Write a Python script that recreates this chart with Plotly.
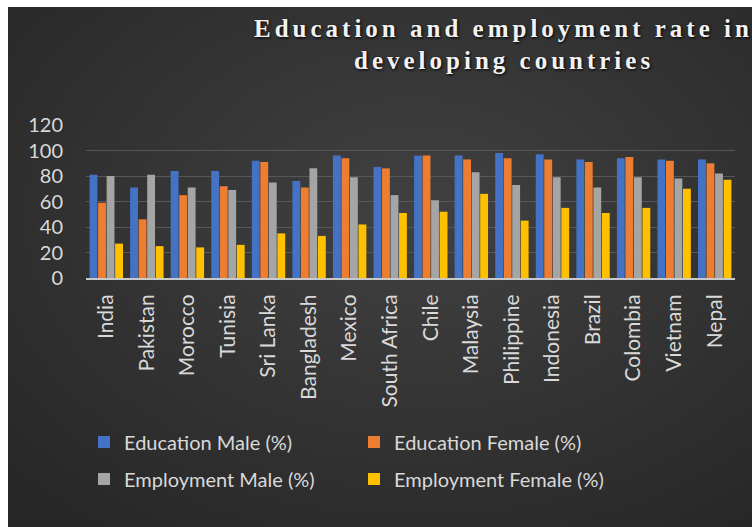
import base64
import plotly.graph_objects as go

countries = ["India", "Pakistan", "Morocco", "Tunisia", "Sri Lanka", "Bangladesh", "Mexico",
             "South Africa", "Chile", "Malaysia", "Philippine", "Indonesia", "Brazil",
             "Colombia", "Vietnam", "Nepal"]
edu_male = [81, 71, 84, 84, 92, 76, 96, 87, 96, 96, 98, 97, 93, 94, 93, 93]
edu_female = [59, 46, 65, 72, 91, 71, 94, 86, 96, 93, 94, 93, 91, 95, 92, 90]
emp_male = [80, 81, 71, 69, 75, 86, 79, 65, 61, 83, 73, 79, 71, 79, 78, 82]
emp_female = [27, 25, 24, 26, 35, 33, 42, 51, 52, 66, 45, 55, 51, 55, 70, 77]
series_names = ["Education Male (%)", "Education Female (%)",
                "Employment Male (%)", "Employment Female (%)"]
y_ticks = [0, 20, 40, 60, 80, 100, 120]

colors = ["#4472C4", "#ED7D31", "#A5A5A5", "#FFC000"]

W, H = 752, 527
L, R, T, B = 86, 17, 125, 249
PW, PH = W - L - R, H - T - B


def px_x(x):
    return (x - L) / PW


def px_y(y):
    return (H - B - y) / PH


fig = go.Figure()
for i, (name, vals) in enumerate(zip(series_names, [edu_male, edu_female, emp_male, emp_female])):
    fig.add_trace(go.Bar(
        x=countries, y=vals, name=name,
        marker=dict(color=colors[i], line=dict(width=0)),
        legend="legend" if i < 2 else "legend2",
    ))

svg = f'''<svg xmlns="http://www.w3.org/2000/svg" width="{W}" height="{H}">
<defs><radialGradient id="g" cx="0.55" cy="0.4" r="0.75">
<stop offset="0" stop-color="#414141"/><stop offset="1" stop-color="#272727"/>
</radialGradient></defs><rect width="100%" height="100%" fill="url(#g)"/></svg>'''
src = "data:image/svg+xml;base64," + base64.b64encode(svg.encode()).decode()

fig.add_layout_image(dict(
    source=src, xref="paper", yref="paper",
    x=px_x(8), y=px_y(7), sizex=(W - 8) / PW, sizey=(H - 7) / PH,
    xanchor="left", yanchor="top", sizing="stretch", layer="below",
))

title_font = dict(family="Liberation Serif", size=25, color="#f2f2f2",
                  weight="bold", shadow="1px 1px 3px #000000")
fig.add_annotation(text="Education and employment rate in", xref="paper", yref="paper",
                   x=px_x(503), y=px_y(28), showarrow=False, font=title_font,
                   xanchor="center", yanchor="middle")
fig.add_annotation(text="developing countries", xref="paper", yref="paper",
                   x=px_x(504), y=px_y(60), showarrow=False, font=title_font,
                   xanchor="center", yanchor="middle")

legend_common = dict(orientation="h", font=dict(family="Lato", size=20, color="#d9d9d9"),
                     bgcolor="rgba(0,0,0,0)", entrywidth=225, entrywidthmode="pixels",
                     itemwidth=30, xanchor="left", yanchor="middle")

fig.update_layout(
    width=W, height=H,
    margin=dict(l=L, r=R, t=T, b=B, autoexpand=False),
    paper_bgcolor="#ffffff",
    plot_bgcolor="rgba(0,0,0,0)",
    barmode="group", bargap=0.16, bargroupgap=0.08,
    showlegend=True,
    legend=dict(**legend_common, x=px_x(84), y=px_y(442)),
    legend2=dict(**legend_common, x=px_x(84), y=px_y(479)),
    xaxis=dict(tickangle=-90, tickfont=dict(family="Lato", size=21, color="#d9d9d9"),
               showline=True, linecolor="#c9c9c9", linewidth=2, showgrid=False,
               ticks="", ticklabelstandoff=6),
    yaxis=dict(range=[0, 120], tickvals=y_ticks, ticktext=[str(v) for v in y_ticks],
               tickfont=dict(family="Lato", size=20, color="#d9d9d9"),
               showgrid=True, gridcolor="#575757", gridwidth=1, zeroline=False,
               showline=False, ticks="", ticklabelstandoff=22),
)

post = """
function ls(){document.querySelectorAll('.annotation-text').forEach(function(e){e.style.letterSpacing='4px';});}
ls(); var gd=document.getElementById('{plot_id}'); if(gd&&gd.on){gd.on('plotly_afterplot', ls);}
"""
fig.write_html("out.html", post_script=post)
